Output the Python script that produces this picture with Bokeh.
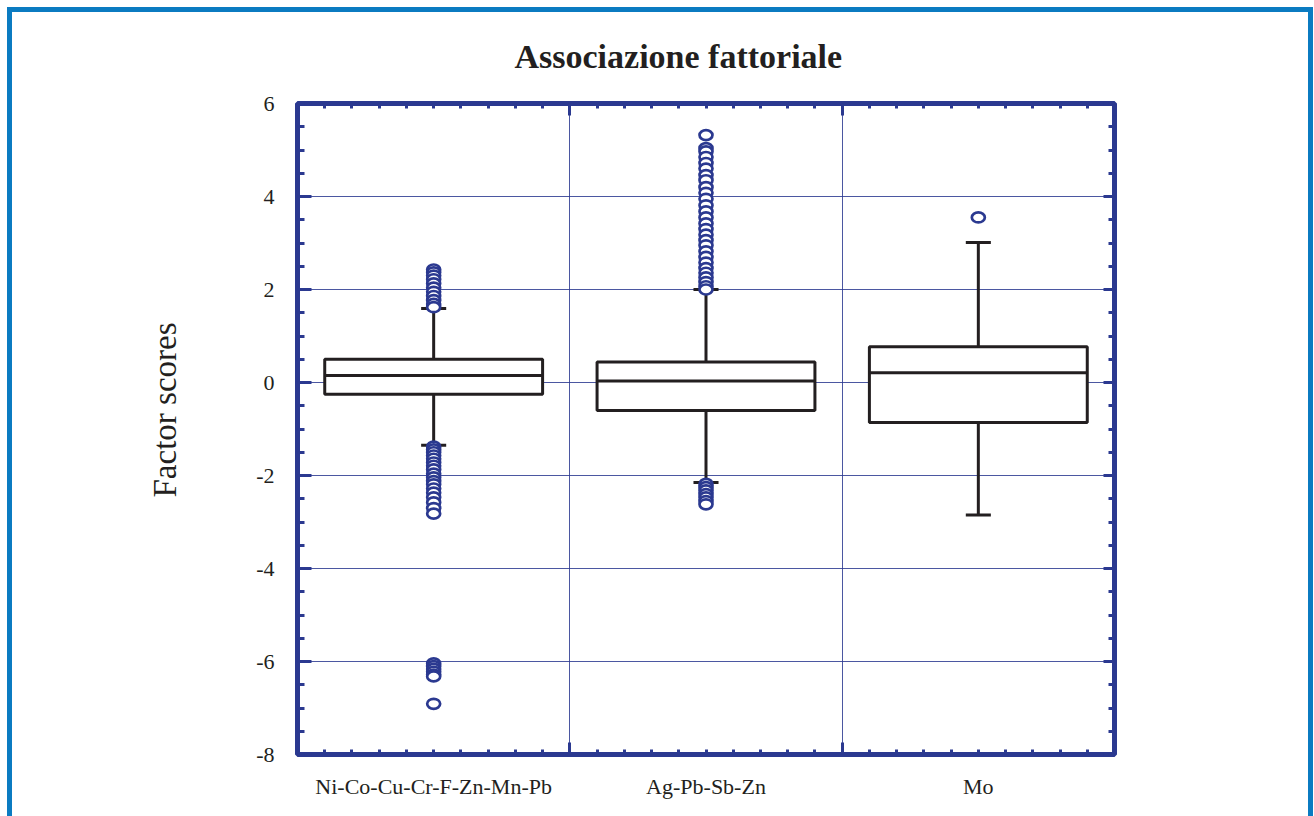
from bokeh.plotting import figure
from bokeh.models import (Range1d, LinearAxis, FixedTicker, ColumnDataSource, Grid, Title)
from bokeh.embed import file_html
from bokeh.resources import INLINE

# ---------------- data ----------------
categories = ["Ni-Co-Cu-Cr-F-Zn-Mn-Pb", "Ag-Pb-Sb-Zn", "Mo"]
q1 = [-0.25, -0.60, -0.86]
median = [0.15, 0.03, 0.21]
q3 = [0.50, 0.44, 0.77]
lower_whisker = [-1.35, -2.15, -2.85]
upper_whisker = [1.59, 2.00, 3.01]

outliers_ni = [2.43, 2.37, 2.30, 2.22, 2.13, 2.04, 1.95, 1.86, 1.77, 1.69, 1.62,
               -1.38, -1.44, -1.50, -1.57, -1.64, -1.72, -1.79, -1.87, -1.96,
               -2.04, -2.12, -2.19, -2.28, -2.37, -2.47, -2.58, -2.70, -2.82,
               -6.04, -6.10, -6.16, -6.22, -6.28, -6.32, -6.91]
outliers_ag = [5.32, 5.04, 4.97, 4.85, 4.72, 4.60, 4.46, 4.35, 4.20, 4.08, 3.95,
               3.81, 3.68, 3.55, 3.42, 3.30, 3.18, 3.06, 2.95, 2.82, 2.70, 2.58,
               2.46, 2.36, 2.26, 2.16, 2.07, 2.00,
               -2.18, -2.25, -2.32, -2.40, -2.47, -2.55, -2.62]
outliers_mo = [3.55]

y_ticks = [-8, -6, -4, -2, 0, 2, 4, 6]
y_tick_labels = ["-8", "-6", "-4", "-2", "0", "2", "4", "6"]

title_text = "Associazione fattoriale"
y_label = "Factor scores"

# ---------------- style ----------------
BLUE = "#2b3990"
INK = "#231f20"
FRAME_BLUE = "#0b7bc1"
FONT = "Liberation Serif"

centers = [i + 0.5 for i in range(len(categories))]
box_half = 0.40
cap_half = 0.046

W, H = 1314, 816
p = figure(width=W, height=H, x_range=Range1d(0, 3), y_range=Range1d(-8, 6),
           output_backend="svg", toolbar_location=None,
           x_axis_location=None, y_axis_location=None,
           min_border_left=297, min_border_right=W - 1114,
           min_border_top=103, min_border_bottom=H - 754)

# hide any default grids
for g in p.grid:
    g.visible = False

p.background_fill_color = "white"
p.border_fill_color = None
p.outline_line_color = BLUE
p.outline_line_width = 5

g_ = f"linear-gradient({FRAME_BLUE},{FRAME_BLUE})"
p.styles = {
    "background": (f"{g_} 7px 7px / 5px 100% no-repeat, "
                   f"{g_} 1308px 7px / 5px 100% no-repeat, "
                   f"{g_} 7px 7px / 1306px 5px no-repeat, white"),
}

# title
p.title.text = title_text
p.title.align = "left"
p.title.offset = 217
p.title.text_font = FONT
p.title.text_font_size = "34px"
p.title.text_font_style = "bold"
p.title.text_color = INK
p.title.standoff = 58

# grids
xgrid = Grid(dimension=0, ticker=FixedTicker(ticks=[1, 2]),
             grid_line_color=BLUE, grid_line_width=1, grid_line_alpha=0.85)
ygrid = Grid(dimension=1, ticker=FixedTicker(ticks=y_ticks[1:-1]),
             grid_line_color=BLUE, grid_line_width=1, grid_line_alpha=0.85)
p.add_layout(xgrid)
p.add_layout(ygrid)

x_minor = [i / 10 for i in range(31)]
y_minor = [-8 + i * 0.5 for i in range(29)]


def tick_axis(ticker, major_len, minor_len):
    ax = LinearAxis(ticker=ticker)
    ax.axis_line_color = None
    ax.major_tick_in = major_len
    ax.major_tick_out = 0
    ax.minor_tick_in = minor_len
    ax.minor_tick_out = 0
    ax.major_tick_line_color = BLUE
    ax.minor_tick_line_color = BLUE
    ax.major_tick_line_width = 3
    ax.minor_tick_line_width = 3
    return ax


# bottom ticks (no labels)
bottom = tick_axis(FixedTicker(ticks=[0, 1, 2, 3], minor_ticks=x_minor), 12, 5)
bottom.major_label_text_font_size = "0px"
bottom.major_label_standoff = 0
bottom.major_label_overrides = {0: "", 1: "", 2: "", 3: ""}
p.add_layout(bottom, "below")

# bottom category labels
xlab = LinearAxis(ticker=FixedTicker(ticks=centers, minor_ticks=[]))
xlab.axis_line_color = None
xlab.major_tick_line_color = None
xlab.minor_tick_line_color = None
xlab.major_label_overrides = {c: name for c, name in zip(centers, categories)}
xlab.major_label_text_font = FONT
xlab.major_label_text_font_size = "22px"
xlab.major_label_text_color = INK
xlab.major_label_standoff = 13
p.add_layout(xlab, "below")

# top ticks
top = tick_axis(FixedTicker(ticks=[0, 1, 2, 3], minor_ticks=x_minor), 12, 5)
top.major_label_text_font_size = "0px"
top.major_label_standoff = 0
top.major_label_overrides = {0: "", 1: "", 2: "", 3: ""}
p.add_layout(top, "above")

# left axis
left = tick_axis(FixedTicker(ticks=y_ticks, minor_ticks=y_minor), 14, 7)
left.major_label_overrides = {v: s for v, s in zip(y_ticks, y_tick_labels)}
left.major_label_text_font = FONT
left.major_label_text_font_size = "22px"
left.major_label_text_color = INK
left.major_label_standoff = 23
p.add_layout(left, "left")

# y-axis title (placed as a side title so it can sit slightly above centre)
ytitle = Title(text=y_label, align="left", offset=257, standoff=142,
               text_font=FONT, text_font_size="33px", text_font_style="normal",
               text_color=INK)
p.add_layout(ytitle, "left")

# right ticks
right = tick_axis(FixedTicker(ticks=y_ticks, minor_ticks=y_minor), 11, 6)
right.major_label_text_font_size = "0px"
right.major_label_standoff = 0
right.major_label_overrides = {v: "" for v in y_ticks}
p.add_layout(right, "right")

# ---------------- boxes ----------------
box_src = ColumnDataSource(dict(
    x=centers, q1=q1, q3=q3, med=median, lo=lower_whisker, hi=upper_whisker,
    x0=[c - box_half for c in centers], x1=[c + box_half for c in centers],
    c0=[c - cap_half for c in centers], c1=[c + cap_half for c in centers],
))

p.segment(x0="x", y0="q3", x1="x", y1="hi", source=box_src, line_color=INK, line_width=3)
p.segment(x0="x", y0="q1", x1="x", y1="lo", source=box_src, line_color=INK, line_width=3)
p.segment(x0="c0", y0="hi", x1="c1", y1="hi", source=box_src, line_color=INK, line_width=3)
p.segment(x0="c0", y0="lo", x1="c1", y1="lo", source=box_src, line_color=INK, line_width=3)
p.quad(left="x0", right="x1", bottom="q1", top="q3", source=box_src,
       fill_color="white", line_color=INK, line_width=3)
p.segment(x0="x0", y0="med", x1="x1", y1="med", source=box_src, line_color=INK, line_width=3)

# ---------------- outliers ----------------
ox, oy = [], []
for c, vals in zip(centers, [outliers_ni, outliers_ag, outliers_mo]):
    ox.extend([c] * len(vals))
    oy.extend(vals)
out_src = ColumnDataSource(dict(x=ox, y=oy))
p.ellipse(x="x", y="y", width=13, height=10, width_units="screen", height_units="screen",
          source=out_src, fill_color="white", line_color=BLUE, line_width=2.7)

open("out.html", "w").write(file_html(p, INLINE))
